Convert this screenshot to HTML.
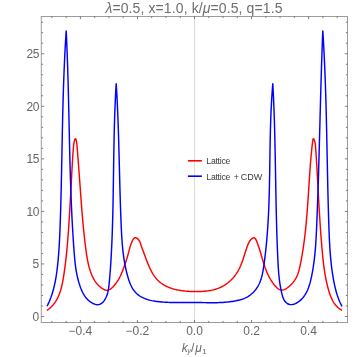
<!DOCTYPE html>
<html><head><meta charset="utf-8"><style>
html,body{margin:0;padding:0;background:#fff;}
svg{display:block;will-change:transform;font-family:"Liberation Sans",sans-serif;}
</style></head><body>
<svg width="357" height="357" viewBox="0 0 357 357">
<rect width="357" height="357" fill="#fff"/>
<line x1="194.5" y1="16.5" x2="194.5" y2="322.5" stroke="#dcdcdc" stroke-width="1"/>
<path d="M46.90,310.40 L47.68,309.85 L48.44,309.28 L49.17,308.70 L49.88,308.10 L50.56,307.49 L51.22,306.87 L51.85,306.23 L52.46,305.57 L53.05,304.90 L53.61,304.22 L54.16,303.53 L54.68,302.82 L55.18,302.11 L55.67,301.38 L56.13,300.64 L56.58,299.89 L57.00,299.12 L57.41,298.35 L57.80,297.57 L58.18,296.78 L58.54,295.98 L58.88,295.18 L59.21,294.36 L59.53,293.54 L59.83,292.71 L60.12,291.87 L60.39,291.03 L60.66,290.18 L60.91,289.32 L61.15,288.46 L61.38,287.59 L61.60,286.72 L61.81,285.85 L62.01,284.97 L62.20,284.08 L62.39,283.20 L62.57,282.31 L62.74,281.42 L62.90,280.53 L63.06,279.63 L63.22,278.73 L63.37,277.84 L63.51,276.94 L63.65,276.04 L63.79,275.15 L63.93,274.25 L64.07,273.35 L64.20,272.46 L64.33,271.56 L64.46,270.67 L64.58,269.77 L64.71,268.88 L64.83,267.99 L64.95,267.09 L65.06,266.20 L65.18,265.31 L65.29,264.42 L65.40,263.53 L65.51,262.64 L65.62,261.75 L65.72,260.86 L65.83,259.97 L65.93,259.08 L66.03,258.19 L66.13,257.30 L66.23,256.41 L66.32,255.52 L66.41,254.63 L66.51,253.75 L66.60,252.86 L66.68,251.97 L66.77,251.08 L66.86,250.20 L66.94,249.31 L67.02,248.42 L67.11,247.53 L67.19,246.65 L67.26,245.76 L67.34,244.87 L67.42,243.99 L67.49,243.10 L67.57,242.21 L67.64,241.33 L67.71,240.44 L67.79,239.55 L67.86,238.66 L67.92,237.78 L67.99,236.89 L68.06,236.00 L68.13,235.11 L68.19,234.23 L68.26,233.34 L68.32,232.45 L68.38,231.56 L68.45,230.67 L68.51,229.78 L68.57,228.89 L68.63,228.00 L68.69,227.11 L68.75,226.22 L68.81,225.33 L68.87,224.44 L68.93,223.55 L68.99,222.66 L69.04,221.77 L69.10,220.87 L69.16,219.98 L69.21,219.09 L69.27,218.19 L69.33,217.30 L69.38,216.41 L69.44,215.51 L69.49,214.62 L69.55,213.72 L69.60,212.83 L69.65,211.93 L69.71,211.04 L69.76,210.14 L69.81,209.25 L69.87,208.35 L69.92,207.45 L69.97,206.56 L70.02,205.66 L70.07,204.77 L70.13,203.87 L70.18,202.97 L70.23,202.08 L70.28,201.18 L70.33,200.28 L70.38,199.39 L70.43,198.49 L70.48,197.59 L70.53,196.70 L70.58,195.80 L70.63,194.90 L70.68,194.01 L70.72,193.11 L70.77,192.21 L70.82,191.32 L70.87,190.42 L70.92,189.52 L70.97,188.63 L71.02,187.73 L71.06,186.84 L71.11,185.94 L71.16,185.05 L71.21,184.15 L71.26,183.26 L71.30,182.36 L71.35,181.47 L71.40,180.57 L71.45,179.68 L71.49,178.78 L71.54,177.89 L71.59,177.00 L71.64,176.11 L71.68,175.21 L71.73,174.32 L71.78,173.43 L71.83,172.54 L71.87,171.65 L71.92,170.76 L71.97,169.87 L72.02,168.98 L72.06,168.09 L72.11,167.20 L72.16,166.31 L72.21,165.42 L72.26,164.53 L72.31,163.64 L72.36,162.75 L72.41,161.86 L72.46,160.97 L72.52,160.08 L72.57,159.19 L72.63,158.30 L72.68,157.41 L72.74,156.52 L72.80,155.63 L72.86,154.74 L72.92,153.85 L72.99,152.95 L73.05,152.06 L73.12,151.16 L73.19,150.27 L73.26,149.37 L73.33,148.47 L73.41,147.57 L73.49,146.67 L73.57,145.77 L73.66,144.86 L73.78,143.95 L73.92,143.02 L74.10,142.09 L74.32,141.13 L74.60,140.17 L74.91,139.33 L75.23,138.76 L75.55,138.64 L75.84,139.03 L76.10,139.77 L76.32,140.71 L76.51,141.68 L76.67,142.63 L76.79,143.55 L76.89,144.47 L76.98,145.37 L77.05,146.26 L77.12,147.15 L77.20,148.05 L77.27,148.94 L77.34,149.83 L77.41,150.72 L77.48,151.62 L77.55,152.51 L77.62,153.40 L77.69,154.29 L77.76,155.19 L77.83,156.08 L77.90,156.97 L77.97,157.87 L78.04,158.76 L78.11,159.66 L78.17,160.55 L78.24,161.44 L78.31,162.34 L78.38,163.23 L78.45,164.12 L78.52,165.02 L78.58,165.91 L78.65,166.81 L78.72,167.70 L78.79,168.59 L78.85,169.49 L78.92,170.38 L78.99,171.28 L79.05,172.17 L79.12,173.06 L79.19,173.96 L79.25,174.85 L79.32,175.74 L79.39,176.64 L79.45,177.53 L79.52,178.42 L79.58,179.32 L79.65,180.21 L79.72,181.10 L79.78,182.00 L79.85,182.89 L79.91,183.78 L79.98,184.67 L80.04,185.57 L80.11,186.46 L80.17,187.35 L80.23,188.24 L80.30,189.13 L80.36,190.02 L80.43,190.92 L80.49,191.81 L80.56,192.70 L80.62,193.59 L80.69,194.48 L80.75,195.37 L80.82,196.26 L80.88,197.15 L80.95,198.04 L81.01,198.93 L81.08,199.82 L81.14,200.71 L81.21,201.60 L81.28,202.49 L81.34,203.38 L81.41,204.27 L81.48,205.16 L81.55,206.05 L81.62,206.94 L81.69,207.83 L81.76,208.72 L81.83,209.60 L81.90,210.49 L81.97,211.38 L82.04,212.27 L82.11,213.16 L82.19,214.05 L82.26,214.94 L82.33,215.83 L82.41,216.72 L82.49,217.61 L82.56,218.50 L82.64,219.39 L82.72,220.28 L82.80,221.17 L82.88,222.06 L82.96,222.95 L83.04,223.84 L83.12,224.73 L83.21,225.62 L83.29,226.51 L83.38,227.40 L83.47,228.29 L83.55,229.18 L83.64,230.07 L83.73,230.96 L83.82,231.85 L83.92,232.74 L84.01,233.63 L84.10,234.52 L84.20,235.42 L84.30,236.31 L84.40,237.20 L84.50,238.09 L84.60,238.98 L84.70,239.87 L84.80,240.77 L84.91,241.66 L85.02,242.55 L85.12,243.45 L85.23,244.34 L85.34,245.23 L85.46,246.13 L85.57,247.02 L85.69,247.91 L85.80,248.81 L85.92,249.70 L86.04,250.60 L86.17,251.49 L86.29,252.39 L86.42,253.28 L86.55,254.18 L86.68,255.07 L86.82,255.96 L86.97,256.85 L87.11,257.74 L87.27,258.63 L87.43,259.52 L87.59,260.40 L87.76,261.28 L87.94,262.16 L88.13,263.04 L88.32,263.91 L88.52,264.78 L88.74,265.65 L88.96,266.51 L89.19,267.37 L89.43,268.23 L89.68,269.08 L89.94,269.92 L90.21,270.76 L90.49,271.60 L90.79,272.43 L91.10,273.26 L91.42,274.08 L91.76,274.89 L92.10,275.70 L92.47,276.50 L92.85,277.29 L93.25,278.08 L93.66,278.86 L94.10,279.62 L94.56,280.38 L95.04,281.13 L95.54,281.86 L96.07,282.59 L96.63,283.30 L97.21,283.99 L97.83,284.67 L98.47,285.34 L99.14,285.99 L99.85,286.63 L100.59,287.25 L101.37,287.84 L102.17,288.40 L102.99,288.90 L103.82,289.35 L104.66,289.71 L105.51,289.99 L106.35,290.16 L107.18,290.21 L107.99,290.13 L108.78,289.92 L109.55,289.59 L110.30,289.16 L111.03,288.64 L111.74,288.05 L112.43,287.40 L113.10,286.71 L113.74,285.99 L114.37,285.25 L114.97,284.51 L115.55,283.78 L116.11,283.05 L116.65,282.31 L117.16,281.57 L117.66,280.83 L118.14,280.09 L118.60,279.33 L119.04,278.58 L119.46,277.81 L119.87,277.03 L120.26,276.24 L120.64,275.44 L121.00,274.64 L121.35,273.83 L121.70,273.01 L122.03,272.19 L122.36,271.36 L122.68,270.52 L123.00,269.68 L123.32,268.84 L123.64,267.99 L123.95,267.14 L124.26,266.29 L124.57,265.44 L124.87,264.58 L125.17,263.73 L125.46,262.87 L125.75,262.01 L126.03,261.16 L126.31,260.30 L126.58,259.45 L126.84,258.60 L127.10,257.75 L127.36,256.90 L127.60,256.06 L127.84,255.22 L128.07,254.38 L128.29,253.55 L128.51,252.73 L128.72,251.90 L128.93,251.07 L129.15,250.25 L129.37,249.42 L129.59,248.58 L129.83,247.74 L130.09,246.88 L130.36,246.01 L130.65,245.14 L130.97,244.24 L131.31,243.33 L131.68,242.40 L132.09,241.44 L132.53,240.49 L133.01,239.59 L133.54,238.80 L134.13,238.18 L134.78,237.78 L135.50,237.67 L136.26,237.85 L137.05,238.26 L137.81,238.87 L138.50,239.59 L139.08,240.39 L139.56,241.23 L139.97,242.11 L140.31,242.99 L140.61,243.89 L140.88,244.76 L141.15,245.61 L141.42,246.42 L141.70,247.20 L141.99,247.97 L142.29,248.73 L142.58,249.48 L142.88,250.25 L143.17,251.03 L143.47,251.82 L143.77,252.63 L144.07,253.45 L144.37,254.28 L144.67,255.11 L144.98,255.96 L145.29,256.81 L145.60,257.67 L145.92,258.53 L146.25,259.40 L146.57,260.27 L146.91,261.15 L147.25,262.02 L147.59,262.90 L147.95,263.77 L148.31,264.64 L148.67,265.51 L149.05,266.38 L149.43,267.24 L149.83,268.09 L150.23,268.94 L150.65,269.78 L151.07,270.61 L151.50,271.44 L151.95,272.25 L152.41,273.05 L152.88,273.83 L153.36,274.61 L153.85,275.36 L154.36,276.11 L154.88,276.83 L155.42,277.54 L155.97,278.23 L156.54,278.90 L157.12,279.55 L157.72,280.17 L158.34,280.78 L158.97,281.36 L159.61,281.93 L160.27,282.47 L160.94,282.99 L161.63,283.50 L162.33,283.98 L163.05,284.44 L163.77,284.89 L164.51,285.32 L165.26,285.73 L166.02,286.12 L166.80,286.50 L167.58,286.86 L168.38,287.20 L169.18,287.53 L170.00,287.84 L170.82,288.13 L171.65,288.41 L172.49,288.68 L173.34,288.93 L174.20,289.16 L175.06,289.39 L175.93,289.60 L176.81,289.79 L177.69,289.98 L178.58,290.15 L179.47,290.31 L180.37,290.46 L181.27,290.60 L182.18,290.72 L183.09,290.84 L184.01,290.94 L184.92,291.04 L185.85,291.13 L186.77,291.20 L187.69,291.27 L188.62,291.33 L189.55,291.38 L190.47,291.43 L191.40,291.47 L192.33,291.50 L193.26,291.52 L194.18,291.54 L195.11,291.55 L196.03,291.55 L196.95,291.55 L197.88,291.54 L198.79,291.53 L199.71,291.51 L200.62,291.47 L201.53,291.43 L202.44,291.38 L203.34,291.32 L204.24,291.26 L205.14,291.18 L206.03,291.08 L206.92,290.98 L207.81,290.87 L208.69,290.74 L209.56,290.60 L210.44,290.44 L211.30,290.28 L212.16,290.09 L213.02,289.90 L213.86,289.68 L214.71,289.46 L215.54,289.21 L216.38,288.95 L217.20,288.67 L218.02,288.38 L218.83,288.06 L219.63,287.73 L220.42,287.38 L221.21,287.01 L221.99,286.61 L222.76,286.20 L223.53,285.77 L224.28,285.32 L225.03,284.85 L225.76,284.36 L226.49,283.85 L227.20,283.32 L227.91,282.78 L228.60,282.22 L229.28,281.65 L229.95,281.05 L230.61,280.45 L231.25,279.82 L231.88,279.18 L232.50,278.53 L233.10,277.87 L233.69,277.19 L234.27,276.50 L234.82,275.79 L235.37,275.07 L235.90,274.35 L236.41,273.61 L236.90,272.86 L237.38,272.10 L237.84,271.33 L238.28,270.55 L238.71,269.76 L239.12,268.96 L239.51,268.16 L239.90,267.35 L240.27,266.53 L240.63,265.71 L240.97,264.88 L241.31,264.04 L241.63,263.20 L241.95,262.35 L242.26,261.51 L242.56,260.65 L242.86,259.80 L243.15,258.94 L243.43,258.08 L243.71,257.22 L243.99,256.36 L244.27,255.50 L244.54,254.63 L244.81,253.77 L245.09,252.91 L245.36,252.05 L245.64,251.19 L245.91,250.34 L246.19,249.49 L246.48,248.64 L246.77,247.79 L247.06,246.95 L247.36,246.11 L247.67,245.28 L247.99,244.46 L248.32,243.64 L248.69,242.84 L249.10,242.04 L249.57,241.27 L250.11,240.51 L250.73,239.77 L251.43,239.07 L252.18,238.46 L252.94,238.02 L253.66,237.80 L254.32,237.86 L254.89,238.19 L255.40,238.75 L255.86,239.48 L256.27,240.33 L256.65,241.24 L257.02,242.16 L257.37,243.08 L257.70,243.99 L258.03,244.89 L258.35,245.79 L258.66,246.68 L258.95,247.57 L259.24,248.45 L259.52,249.33 L259.80,250.20 L260.06,251.07 L260.33,251.93 L260.58,252.79 L260.84,253.64 L261.08,254.50 L261.33,255.35 L261.58,256.19 L261.82,257.04 L262.06,257.88 L262.31,258.72 L262.55,259.56 L262.80,260.39 L263.05,261.23 L263.30,262.06 L263.55,262.90 L263.82,263.73 L264.08,264.56 L264.35,265.40 L264.63,266.23 L264.92,267.06 L265.21,267.90 L265.52,268.73 L265.83,269.56 L266.15,270.39 L266.48,271.21 L266.82,272.04 L267.17,272.86 L267.53,273.68 L267.91,274.49 L268.30,275.30 L268.70,276.11 L269.11,276.92 L269.54,277.72 L269.98,278.51 L270.44,279.31 L270.92,280.09 L271.41,280.87 L271.92,281.65 L272.44,282.42 L272.98,283.18 L273.55,283.94 L274.13,284.69 L274.73,285.43 L275.35,286.17 L275.99,286.87 L276.65,287.55 L277.33,288.17 L278.03,288.74 L278.75,289.22 L279.48,289.62 L280.24,289.91 L281.01,290.09 L281.80,290.15 L282.60,290.07 L283.42,289.89 L284.24,289.60 L285.06,289.22 L285.88,288.78 L286.69,288.27 L287.48,287.72 L288.26,287.13 L289.02,286.53 L289.75,285.91 L290.45,285.28 L291.13,284.63 L291.78,283.97 L292.41,283.30 L293.00,282.61 L293.57,281.91 L294.10,281.19 L294.61,280.46 L295.08,279.72 L295.53,278.96 L295.96,278.19 L296.36,277.41 L296.74,276.61 L297.09,275.81 L297.43,275.00 L297.75,274.17 L298.04,273.34 L298.32,272.50 L298.59,271.66 L298.84,270.81 L299.08,269.95 L299.30,269.08 L299.52,268.22 L299.72,267.34 L299.92,266.47 L300.11,265.59 L300.29,264.71 L300.47,263.83 L300.65,262.95 L300.82,262.07 L300.99,261.18 L301.16,260.30 L301.32,259.42 L301.49,258.54 L301.65,257.65 L301.80,256.77 L301.96,255.88 L302.11,255.00 L302.26,254.11 L302.41,253.23 L302.55,252.34 L302.69,251.46 L302.83,250.57 L302.97,249.69 L303.11,248.80 L303.24,247.91 L303.37,247.03 L303.50,246.14 L303.63,245.25 L303.75,244.37 L303.88,243.48 L304.00,242.59 L304.11,241.70 L304.23,240.81 L304.35,239.92 L304.46,239.04 L304.57,238.15 L304.68,237.26 L304.79,236.37 L304.89,235.48 L304.99,234.59 L305.10,233.70 L305.20,232.81 L305.29,231.92 L305.39,231.03 L305.49,230.14 L305.58,229.25 L305.67,228.36 L305.76,227.46 L305.85,226.57 L305.94,225.68 L306.03,224.79 L306.11,223.90 L306.20,223.01 L306.28,222.12 L306.36,221.22 L306.44,220.33 L306.52,219.44 L306.60,218.55 L306.67,217.66 L306.75,216.76 L306.82,215.87 L306.89,214.98 L306.97,214.09 L307.04,213.19 L307.11,212.30 L307.18,211.41 L307.25,210.51 L307.31,209.62 L307.38,208.73 L307.45,207.84 L307.51,206.94 L307.58,206.05 L307.64,205.16 L307.70,204.26 L307.77,203.37 L307.83,202.48 L307.89,201.59 L307.95,200.69 L308.01,199.80 L308.07,198.91 L308.13,198.01 L308.19,197.12 L308.25,196.23 L308.31,195.34 L308.37,194.44 L308.43,193.55 L308.48,192.66 L308.54,191.77 L308.60,190.87 L308.66,189.98 L308.72,189.09 L308.77,188.20 L308.83,187.30 L308.89,186.41 L308.95,185.52 L309.00,184.63 L309.06,183.74 L309.12,182.84 L309.18,181.95 L309.24,181.06 L309.29,180.17 L309.35,179.28 L309.41,178.39 L309.47,177.50 L309.53,176.60 L309.59,175.71 L309.65,174.82 L309.71,173.93 L309.77,173.04 L309.84,172.15 L309.90,171.26 L309.96,170.37 L310.03,169.48 L310.09,168.59 L310.16,167.70 L310.22,166.82 L310.29,165.93 L310.36,165.04 L310.43,164.15 L310.50,163.26 L310.57,162.37 L310.64,161.49 L310.71,160.60 L310.78,159.71 L310.86,158.82 L310.93,157.94 L311.01,157.05 L311.09,156.16 L311.17,155.27 L311.25,154.39 L311.33,153.50 L311.41,152.60 L311.50,151.71 L311.59,150.81 L311.68,149.91 L311.78,149.01 L311.88,148.10 L311.98,147.19 L312.08,146.27 L312.19,145.34 L312.30,144.42 L312.42,143.48 L312.54,142.54 L312.66,141.59 L312.79,140.63 L312.93,139.73 L313.11,139.02 L313.34,138.66 L313.64,138.80 L313.99,139.37 L314.35,140.21 L314.68,141.16 L314.93,142.10 L315.13,143.03 L315.28,143.95 L315.39,144.86 L315.47,145.76 L315.54,146.65 L315.61,147.55 L315.68,148.44 L315.74,149.34 L315.80,150.23 L315.87,151.13 L315.93,152.02 L315.99,152.92 L316.05,153.81 L316.11,154.70 L316.17,155.60 L316.23,156.49 L316.29,157.39 L316.35,158.28 L316.40,159.17 L316.46,160.07 L316.51,160.96 L316.57,161.86 L316.62,162.75 L316.67,163.64 L316.73,164.54 L316.78,165.43 L316.83,166.32 L316.88,167.22 L316.93,168.11 L316.98,169.00 L317.03,169.89 L317.08,170.79 L317.13,171.68 L317.18,172.57 L317.23,173.47 L317.28,174.36 L317.33,175.25 L317.37,176.15 L317.42,177.04 L317.47,177.93 L317.52,178.82 L317.57,179.72 L317.61,180.61 L317.66,181.50 L317.71,182.40 L317.75,183.29 L317.80,184.18 L317.85,185.07 L317.90,185.97 L317.94,186.86 L317.99,187.75 L318.04,188.65 L318.09,189.54 L318.14,190.43 L318.18,191.33 L318.23,192.22 L318.28,193.11 L318.33,194.01 L318.38,194.90 L318.43,195.79 L318.48,196.69 L318.53,197.58 L318.58,198.47 L318.62,199.37 L318.67,200.26 L318.73,201.15 L318.78,202.05 L318.83,202.94 L318.88,203.83 L318.93,204.73 L318.98,205.62 L319.03,206.51 L319.08,207.41 L319.14,208.30 L319.19,209.19 L319.24,210.09 L319.30,210.98 L319.35,211.87 L319.40,212.77 L319.46,213.66 L319.51,214.55 L319.57,215.44 L319.63,216.34 L319.68,217.23 L319.74,218.12 L319.80,219.02 L319.85,219.91 L319.91,220.80 L319.97,221.70 L320.03,222.59 L320.09,223.48 L320.15,224.38 L320.21,225.27 L320.27,226.16 L320.33,227.06 L320.39,227.95 L320.46,228.84 L320.52,229.73 L320.58,230.63 L320.65,231.52 L320.71,232.41 L320.78,233.31 L320.84,234.20 L320.91,235.09 L320.98,235.98 L321.05,236.88 L321.12,237.77 L321.18,238.66 L321.25,239.55 L321.33,240.45 L321.40,241.34 L321.47,242.23 L321.54,243.12 L321.62,244.01 L321.69,244.91 L321.76,245.80 L321.84,246.69 L321.92,247.58 L321.99,248.47 L322.07,249.37 L322.15,250.26 L322.23,251.15 L322.31,252.04 L322.39,252.93 L322.48,253.82 L322.56,254.72 L322.65,255.61 L322.73,256.50 L322.82,257.39 L322.91,258.28 L323.01,259.17 L323.10,260.06 L323.20,260.95 L323.30,261.84 L323.40,262.72 L323.51,263.61 L323.62,264.50 L323.73,265.39 L323.84,266.28 L323.96,267.16 L324.08,268.05 L324.20,268.93 L324.33,269.82 L324.46,270.70 L324.60,271.59 L324.74,272.47 L324.88,273.35 L325.03,274.23 L325.18,275.11 L325.34,276.00 L325.50,276.87 L325.66,277.75 L325.83,278.63 L326.01,279.51 L326.19,280.39 L326.38,281.26 L326.57,282.14 L326.76,283.01 L326.97,283.88 L327.18,284.75 L327.39,285.63 L327.61,286.50 L327.84,287.36 L328.07,288.23 L328.31,289.10 L328.56,289.96 L328.81,290.83 L329.07,291.69 L329.34,292.55 L329.62,293.41 L329.91,294.26 L330.21,295.11 L330.53,295.95 L330.86,296.78 L331.20,297.60 L331.56,298.42 L331.94,299.22 L332.34,300.02 L332.75,300.80 L333.19,301.57 L333.65,302.32 L334.13,303.06 L334.63,303.78 L335.17,304.49 L335.72,305.17 L336.31,305.84 L336.92,306.49 L337.56,307.12 L338.24,307.73 L338.94,308.31 L339.68,308.87 L340.45,309.41 L341.26,309.92 L342.10,310.40" fill="none" stroke="#ff0000" stroke-width="1.45" stroke-linejoin="round"/>
<path d="M47.00,306.30 L47.84,304.62 L48.64,302.92 L49.39,301.22 L50.09,299.50 L50.76,297.77 L51.39,296.02 L51.98,294.27 L52.53,292.51 L53.05,290.73 L53.54,288.95 L53.99,287.16 L54.42,285.36 L54.82,283.55 L55.19,281.74 L55.53,279.92 L55.86,278.10 L56.16,276.27 L56.44,274.43 L56.70,272.59 L56.95,270.75 L57.18,268.91 L57.40,267.06 L57.61,265.21 L57.80,263.36 L57.99,261.51 L58.16,259.66 L58.33,257.81 L58.48,255.95 L58.63,254.10 L58.77,252.24 L58.90,250.38 L59.03,248.53 L59.15,246.67 L59.26,244.81 L59.36,242.95 L59.46,241.09 L59.55,239.23 L59.64,237.37 L59.73,235.50 L59.81,233.64 L59.89,231.78 L59.96,229.92 L60.03,228.06 L60.10,226.19 L60.17,224.33 L60.23,222.47 L60.30,220.61 L60.36,218.75 L60.42,216.89 L60.48,215.02 L60.54,213.16 L60.60,211.30 L60.65,209.44 L60.71,207.58 L60.76,205.72 L60.81,203.86 L60.86,202.00 L60.91,200.14 L60.96,198.27 L61.01,196.41 L61.05,194.55 L61.10,192.69 L61.15,190.83 L61.19,188.97 L61.23,187.11 L61.27,185.25 L61.32,183.39 L61.36,181.53 L61.40,179.67 L61.44,177.81 L61.48,175.95 L61.52,174.09 L61.55,172.23 L61.59,170.37 L61.63,168.52 L61.67,166.66 L61.70,164.80 L61.74,162.94 L61.78,161.08 L61.81,159.22 L61.85,157.36 L61.88,155.50 L61.92,153.64 L61.96,151.78 L61.99,149.92 L62.03,148.07 L62.06,146.21 L62.10,144.35 L62.14,142.49 L62.17,140.63 L62.21,138.77 L62.25,136.91 L62.28,135.06 L62.32,133.20 L62.36,131.34 L62.40,129.48 L62.44,127.62 L62.48,125.76 L62.52,123.91 L62.56,122.05 L62.60,120.19 L62.64,118.33 L62.69,116.47 L62.73,114.62 L62.78,112.76 L62.82,110.90 L62.87,109.04 L62.92,107.18 L62.96,105.32 L63.01,103.47 L63.06,101.61 L63.12,99.75 L63.17,97.89 L63.22,96.03 L63.28,94.18 L63.34,92.32 L63.39,90.46 L63.45,88.60 L63.51,86.75 L63.58,84.89 L63.64,83.03 L63.71,81.17 L63.77,79.31 L63.84,77.46 L63.91,75.60 L63.98,73.74 L64.06,71.88 L64.13,70.02 L64.21,68.17 L64.29,66.31 L64.37,64.45 L64.45,62.59 L64.54,60.73 L64.62,58.87 L64.71,57.02 L64.80,55.16 L64.90,53.30 L64.99,51.44 L65.09,49.58 L65.19,47.73 L65.29,45.87 L65.40,44.01 L65.50,42.15 L65.61,40.29 L65.73,38.43 L65.84,36.58 L65.96,34.72 L66.08,32.86 L66.20,31.00 L66.20,31.00 L66.29,32.77 L66.37,34.54 L66.45,36.31 L66.54,38.08 L66.61,39.85 L66.69,41.62 L66.77,43.39 L66.84,45.16 L66.92,46.93 L66.99,48.70 L67.06,50.47 L67.13,52.24 L67.19,54.02 L67.26,55.79 L67.32,57.56 L67.38,59.33 L67.45,61.10 L67.51,62.87 L67.57,64.65 L67.62,66.42 L67.68,68.19 L67.73,69.96 L67.79,71.73 L67.84,73.51 L67.90,75.28 L67.95,77.05 L68.00,78.83 L68.05,80.60 L68.10,82.37 L68.14,84.14 L68.19,85.92 L68.24,87.69 L68.28,89.46 L68.33,91.24 L68.37,93.01 L68.41,94.78 L68.46,96.56 L68.50,98.33 L68.54,100.10 L68.58,101.88 L68.62,103.65 L68.67,105.43 L68.71,107.20 L68.75,108.97 L68.79,110.75 L68.82,112.52 L68.86,114.29 L68.90,116.07 L68.94,117.84 L68.98,119.62 L69.02,121.39 L69.06,123.16 L69.10,124.94 L69.13,126.71 L69.17,128.49 L69.21,130.26 L69.25,132.03 L69.29,133.81 L69.33,135.58 L69.37,137.36 L69.41,139.13 L69.45,140.90 L69.49,142.68 L69.53,144.45 L69.57,146.23 L69.61,148.00 L69.65,149.77 L69.70,151.55 L69.74,153.32 L69.78,155.09 L69.83,156.87 L69.87,158.64 L69.92,160.41 L69.97,162.19 L70.01,163.96 L70.06,165.73 L70.11,167.51 L70.16,169.28 L70.21,171.05 L70.26,172.83 L70.32,174.60 L70.37,176.37 L70.43,178.14 L70.48,179.92 L70.54,181.69 L70.60,183.46 L70.66,185.23 L70.72,187.01 L70.78,188.78 L70.84,190.55 L70.91,192.32 L70.97,194.09 L71.04,195.87 L71.11,197.64 L71.18,199.41 L71.25,201.18 L71.33,202.95 L71.40,204.72 L71.48,206.49 L71.56,208.26 L71.64,210.03 L71.72,211.80 L71.80,213.57 L71.89,215.34 L71.97,217.11 L72.06,218.88 L72.15,220.65 L72.25,222.42 L72.34,224.19 L72.44,225.96 L72.54,227.73 L72.64,229.50 L72.74,231.27 L72.85,233.04 L72.96,234.80 L73.07,236.57 L73.18,238.34 L73.29,240.11 L73.41,241.87 L73.53,243.64 L73.65,245.41 L73.78,247.17 L73.90,248.94 L74.03,250.71 L74.16,252.47 L74.30,254.24 L74.45,256.00 L74.60,257.77 L74.77,259.53 L74.94,261.29 L75.14,263.05 L75.35,264.80 L75.57,266.55 L75.82,268.30 L76.09,270.05 L76.39,271.79 L76.71,273.53 L77.06,275.27 L77.43,277.00 L77.85,278.73 L78.29,280.45 L78.77,282.17 L79.29,283.88 L79.84,285.59 L80.44,287.28 L81.09,288.97 L81.79,290.64 L82.55,292.27 L83.39,293.86 L84.31,295.40 L85.32,296.88 L86.43,298.28 L87.65,299.60 L88.98,300.83 L90.44,301.96 L92.02,302.96 L93.68,303.80 L95.37,304.39 L97.04,304.69 L98.63,304.64 L100.11,304.22 L101.47,303.46 L102.72,302.41 L103.86,301.12 L104.87,299.64 L105.77,298.01 L106.55,296.28 L107.20,294.50 L107.73,292.70 L108.15,290.92 L108.48,289.15 L108.74,287.38 L108.94,285.62 L109.12,283.87 L109.30,282.11 L109.46,280.35 L109.62,278.59 L109.77,276.82 L109.92,275.06 L110.07,273.30 L110.20,271.53 L110.34,269.77 L110.46,268.00 L110.59,266.23 L110.71,264.47 L110.82,262.70 L110.93,260.93 L111.04,259.16 L111.14,257.39 L111.24,255.62 L111.33,253.85 L111.42,252.08 L111.51,250.31 L111.60,248.54 L111.68,246.77 L111.76,245.00 L111.84,243.23 L111.92,241.45 L111.99,239.68 L112.06,237.91 L112.13,236.14 L112.19,234.37 L112.26,232.60 L112.32,230.83 L112.38,229.05 L112.43,227.28 L112.49,225.51 L112.54,223.74 L112.59,221.96 L112.64,220.19 L112.69,218.42 L112.73,216.65 L112.78,214.88 L112.82,213.10 L112.86,211.33 L112.90,209.56 L112.94,207.78 L112.98,206.01 L113.01,204.24 L113.05,202.47 L113.08,200.69 L113.11,198.92 L113.15,197.15 L113.18,195.37 L113.21,193.60 L113.24,191.83 L113.26,190.05 L113.29,188.28 L113.32,186.51 L113.35,184.73 L113.37,182.96 L113.40,181.19 L113.42,179.41 L113.45,177.64 L113.47,175.87 L113.50,174.09 L113.53,172.32 L113.55,170.55 L113.58,168.77 L113.60,167.00 L113.63,165.23 L113.65,163.45 L113.68,161.68 L113.71,159.91 L113.73,158.13 L113.76,156.36 L113.79,154.58 L113.82,152.81 L113.85,151.04 L113.88,149.27 L113.91,147.49 L113.94,145.72 L113.98,143.95 L114.01,142.17 L114.05,140.40 L114.09,138.63 L114.12,136.85 L114.16,135.08 L114.20,133.31 L114.25,131.53 L114.29,129.76 L114.34,127.99 L114.38,126.22 L114.43,124.44 L114.48,122.67 L114.54,120.90 L114.59,119.13 L114.65,117.35 L114.71,115.58 L114.77,113.81 L114.83,112.04 L114.90,110.27 L114.97,108.49 L115.04,106.72 L115.11,104.95 L115.18,103.18 L115.26,101.41 L115.34,99.64 L115.43,97.87 L115.51,96.09 L115.60,94.32 L115.69,92.55 L115.79,90.78 L115.89,89.01 L115.99,87.24 L116.09,85.47 L116.20,83.70 L116.20,83.70 L116.27,84.87 L116.35,86.03 L116.42,87.20 L116.49,88.36 L116.56,89.53 L116.63,90.70 L116.69,91.86 L116.76,93.03 L116.82,94.20 L116.89,95.36 L116.95,96.53 L117.01,97.69 L117.07,98.86 L117.13,100.03 L117.19,101.19 L117.24,102.36 L117.30,103.53 L117.35,104.69 L117.41,105.86 L117.46,107.03 L117.51,108.19 L117.57,109.36 L117.62,110.53 L117.67,111.69 L117.72,112.86 L117.76,114.03 L117.81,115.19 L117.86,116.36 L117.90,117.53 L117.95,118.69 L117.99,119.86 L118.04,121.03 L118.08,122.19 L118.12,123.36 L118.16,124.53 L118.20,125.69 L118.24,126.86 L118.28,128.03 L118.32,129.20 L118.36,130.36 L118.40,131.53 L118.44,132.70 L118.47,133.86 L118.51,135.03 L118.55,136.20 L118.58,137.36 L118.62,138.53 L118.65,139.70 L118.68,140.87 L118.72,142.03 L118.75,143.20 L118.78,144.37 L118.82,145.53 L118.85,146.70 L118.88,147.87 L118.91,149.04 L118.94,150.20 L118.97,151.37 L119.01,152.54 L119.04,153.70 L119.07,154.87 L119.10,156.04 L119.13,157.21 L119.16,158.37 L119.19,159.54 L119.22,160.71 L119.25,161.87 L119.27,163.04 L119.30,164.21 L119.33,165.38 L119.36,166.54 L119.39,167.71 L119.42,168.88 L119.45,170.05 L119.48,171.21 L119.51,172.38 L119.54,173.55 L119.57,174.71 L119.60,175.88 L119.63,177.05 L119.66,178.22 L119.69,179.38 L119.72,180.55 L119.75,181.72 L119.78,182.88 L119.81,184.05 L119.84,185.22 L119.87,186.39 L119.90,187.55 L119.93,188.72 L119.97,189.89 L120.00,191.06 L120.03,192.22 L120.06,193.39 L120.10,194.56 L120.13,195.72 L120.17,196.89 L120.20,198.06 L120.24,199.23 L120.27,200.39 L120.31,201.56 L120.35,202.73 L120.38,203.89 L120.42,205.06 L120.46,206.23 L120.50,207.39 L120.54,208.56 L120.58,209.73 L120.62,210.90 L120.66,212.06 L120.70,213.23 L120.74,214.40 L120.79,215.56 L120.83,216.73 L120.88,217.90 L120.92,219.06 L120.97,220.23 L121.02,221.40 L121.06,222.56 L121.11,223.73 L121.16,224.90 L121.21,226.06 L121.26,227.23 L121.32,228.40 L121.37,229.56 L121.43,230.73 L121.49,231.90 L121.55,233.06 L121.61,234.23 L121.68,235.40 L121.74,236.56 L121.82,237.73 L121.89,238.89 L121.97,240.06 L122.05,241.22 L122.14,242.38 L122.23,243.55 L122.33,244.71 L122.43,245.87 L122.54,247.04 L122.65,248.20 L122.77,249.36 L122.89,250.52 L123.02,251.68 L123.16,252.84 L123.30,254.00 L123.45,255.16 L123.61,256.32 L123.77,257.48 L123.94,258.63 L124.12,259.79 L124.31,260.95 L124.50,262.10 L124.71,263.25 L124.92,264.41 L125.14,265.56 L125.37,266.71 L125.61,267.86 L125.86,269.01 L126.12,270.16 L126.39,271.31 L126.67,272.46 L126.97,273.60 L127.27,274.75 L127.58,275.89 L127.91,277.03 L128.25,278.17 L128.60,279.30 L128.98,280.42 L129.37,281.53 L129.79,282.63 L130.23,283.71 L130.69,284.77 L131.18,285.81 L131.70,286.84 L132.25,287.83 L132.83,288.80 L133.45,289.74 L134.10,290.65 L134.79,291.53 L135.52,292.37 L136.29,293.18 L137.10,293.94 L137.96,294.67 L138.86,295.35 L139.80,295.99 L140.77,296.60 L141.78,297.16 L142.82,297.69 L143.89,298.17 L144.97,298.63 L146.08,299.04 L147.21,299.42 L148.34,299.77 L149.49,300.09 L150.66,300.38 L151.83,300.64 L153.00,300.87 L154.19,301.08 L155.38,301.27 L156.57,301.43 L157.76,301.58 L158.96,301.72 L160.15,301.83 L161.34,301.94 L162.53,302.04 L163.71,302.12 L164.89,302.20 L166.06,302.26 L167.24,302.32 L168.41,302.37 L169.58,302.41 L170.74,302.45 L171.90,302.48 L173.07,302.50 L174.23,302.52 L175.38,302.53 L176.54,302.54 L177.69,302.54 L178.85,302.54 L180.00,302.54 L181.15,302.53 L182.31,302.52 L183.46,302.52 L184.61,302.51 L185.76,302.50 L186.91,302.49 L188.06,302.48 L189.22,302.47 L190.37,302.47 L191.53,302.46 L192.68,302.46 L193.84,302.47 L195.00,302.48 L196.16,302.49 L197.32,302.50 L198.49,302.52 L199.65,302.54 L200.82,302.56 L201.98,302.58 L203.15,302.60 L204.32,302.62 L205.49,302.64 L206.67,302.66 L207.84,302.68 L209.01,302.69 L210.18,302.70 L211.36,302.71 L212.53,302.71 L213.71,302.71 L214.88,302.70 L216.06,302.68 L217.23,302.66 L218.41,302.62 L219.58,302.58 L220.75,302.54 L221.93,302.48 L223.10,302.41 L224.28,302.33 L225.45,302.24 L226.62,302.14 L227.79,302.02 L228.96,301.89 L230.13,301.75 L231.30,301.59 L232.46,301.42 L233.63,301.23 L234.79,301.03 L235.95,300.81 L237.11,300.56 L238.27,300.30 L239.41,300.02 L240.55,299.70 L241.67,299.36 L242.78,298.98 L243.87,298.57 L244.94,298.13 L245.98,297.64 L247.01,297.11 L248.01,296.54 L248.98,295.92 L249.92,295.26 L250.83,294.56 L251.71,293.82 L252.57,293.05 L253.39,292.24 L254.18,291.40 L254.93,290.53 L255.65,289.63 L256.34,288.70 L256.99,287.75 L257.61,286.78 L258.19,285.78 L258.73,284.77 L259.24,283.74 L259.71,282.69 L260.14,281.63 L260.55,280.55 L260.92,279.46 L261.27,278.36 L261.59,277.25 L261.88,276.13 L262.16,275.00 L262.41,273.86 L262.65,272.71 L262.87,271.55 L263.08,270.40 L263.27,269.23 L263.46,268.07 L263.64,266.90 L263.81,265.73 L263.97,264.56 L264.14,263.39 L264.29,262.22 L264.45,261.05 L264.60,259.88 L264.75,258.71 L264.90,257.54 L265.04,256.37 L265.19,255.20 L265.32,254.03 L265.46,252.86 L265.59,251.69 L265.72,250.52 L265.84,249.35 L265.97,248.19 L266.09,247.02 L266.20,245.85 L266.32,244.68 L266.43,243.51 L266.54,242.34 L266.65,241.18 L266.75,240.01 L266.85,238.84 L266.95,237.67 L267.05,236.51 L267.14,235.34 L267.24,234.17 L267.33,233.00 L267.41,231.84 L267.50,230.67 L267.58,229.50 L267.66,228.34 L267.74,227.17 L267.82,226.00 L267.89,224.83 L267.96,223.67 L268.03,222.50 L268.10,221.34 L268.17,220.17 L268.23,219.00 L268.30,217.84 L268.36,216.67 L268.42,215.50 L268.47,214.34 L268.53,213.17 L268.58,212.01 L268.64,210.84 L268.69,209.67 L268.73,208.51 L268.78,207.34 L268.83,206.18 L268.87,205.01 L268.92,203.85 L268.96,202.68 L269.00,201.51 L269.04,200.35 L269.08,199.18 L269.11,198.02 L269.15,196.85 L269.18,195.69 L269.22,194.52 L269.25,193.36 L269.28,192.19 L269.31,191.03 L269.34,189.86 L269.37,188.70 L269.39,187.53 L269.42,186.37 L269.45,185.20 L269.47,184.04 L269.50,182.87 L269.52,181.71 L269.54,180.54 L269.56,179.38 L269.59,178.21 L269.61,177.05 L269.63,175.88 L269.65,174.72 L269.67,173.55 L269.69,172.39 L269.70,171.22 L269.72,170.06 L269.74,168.89 L269.76,167.73 L269.78,166.56 L269.79,165.40 L269.81,164.23 L269.83,163.07 L269.85,161.90 L269.86,160.73 L269.88,159.57 L269.90,158.40 L269.91,157.24 L269.93,156.07 L269.95,154.91 L269.97,153.74 L269.99,152.58 L270.00,151.41 L270.02,150.25 L270.04,149.08 L270.06,147.92 L270.08,146.75 L270.10,145.59 L270.12,144.42 L270.14,143.25 L270.16,142.09 L270.19,140.92 L270.21,139.76 L270.23,138.59 L270.26,137.42 L270.28,136.26 L270.31,135.09 L270.34,133.93 L270.36,132.76 L270.39,131.59 L270.42,130.43 L270.45,129.26 L270.48,128.10 L270.52,126.93 L270.55,125.76 L270.58,124.60 L270.62,123.43 L270.66,122.26 L270.70,121.09 L270.74,119.93 L270.78,118.76 L270.82,117.59 L270.86,116.43 L270.91,115.26 L270.95,114.09 L271.00,112.92 L271.05,111.76 L271.10,110.59 L271.16,109.42 L271.21,108.25 L271.27,107.08 L271.32,105.92 L271.38,104.75 L271.44,103.58 L271.51,102.41 L271.57,101.24 L271.64,100.07 L271.71,98.91 L271.78,97.74 L271.85,96.57 L271.93,95.40 L272.01,94.23 L272.08,93.06 L272.17,91.89 L272.25,90.72 L272.34,89.55 L272.42,88.38 L272.51,87.21 L272.61,86.04 L272.70,84.87 L272.80,83.70 L272.80,83.70 L272.90,85.47 L272.99,87.23 L273.08,89.00 L273.17,90.76 L273.26,92.53 L273.34,94.30 L273.43,96.07 L273.51,97.83 L273.58,99.60 L273.66,101.37 L273.73,103.14 L273.80,104.91 L273.87,106.68 L273.94,108.45 L274.01,110.22 L274.07,111.99 L274.14,113.76 L274.20,115.54 L274.25,117.31 L274.31,119.08 L274.37,120.85 L274.42,122.63 L274.47,124.40 L274.53,126.17 L274.58,127.95 L274.62,129.72 L274.67,131.50 L274.72,133.27 L274.76,135.04 L274.81,136.82 L274.85,138.59 L274.89,140.37 L274.93,142.14 L274.97,143.92 L275.01,145.70 L275.05,147.47 L275.08,149.25 L275.12,151.02 L275.16,152.80 L275.19,154.58 L275.23,156.35 L275.26,158.13 L275.29,159.90 L275.33,161.68 L275.36,163.46 L275.39,165.23 L275.42,167.01 L275.45,168.79 L275.48,170.56 L275.52,172.34 L275.55,174.11 L275.58,175.89 L275.61,177.67 L275.64,179.44 L275.67,181.22 L275.70,182.99 L275.73,184.77 L275.76,186.55 L275.80,188.32 L275.83,190.10 L275.86,191.87 L275.89,193.65 L275.93,195.42 L275.96,197.20 L276.00,198.97 L276.03,200.74 L276.07,202.52 L276.10,204.29 L276.14,206.07 L276.18,207.84 L276.22,209.61 L276.26,211.39 L276.30,213.16 L276.34,214.93 L276.38,216.70 L276.42,218.47 L276.47,220.24 L276.52,222.02 L276.56,223.79 L276.61,225.56 L276.66,227.33 L276.71,229.10 L276.77,230.87 L276.82,232.63 L276.88,234.40 L276.93,236.17 L276.99,237.94 L277.05,239.70 L277.12,241.47 L277.18,243.24 L277.25,245.00 L277.31,246.77 L277.38,248.53 L277.45,250.30 L277.53,252.06 L277.60,253.82 L277.68,255.59 L277.76,257.35 L277.85,259.11 L277.93,260.87 L278.02,262.63 L278.11,264.39 L278.21,266.15 L278.32,267.91 L278.44,269.68 L278.57,271.44 L278.71,273.21 L278.87,274.97 L279.05,276.74 L279.24,278.52 L279.46,280.29 L279.70,282.07 L279.96,283.85 L280.25,285.64 L280.57,287.43 L280.92,289.23 L281.30,291.03 L281.71,292.83 L282.15,294.64 L282.66,296.44 L283.25,298.17 L283.98,299.79 L284.87,301.25 L285.98,302.51 L287.29,303.52 L288.77,304.23 L290.37,304.61 L292.03,304.61 L293.72,304.25 L295.40,303.61 L297.04,302.74 L298.58,301.72 L300.02,300.60 L301.34,299.40 L302.56,298.13 L303.67,296.78 L304.69,295.37 L305.62,293.90 L306.47,292.38 L307.24,290.80 L307.94,289.18 L308.58,287.53 L309.16,285.84 L309.68,284.13 L310.17,282.39 L310.61,280.64 L311.02,278.87 L311.41,277.11 L311.78,275.34 L312.12,273.57 L312.45,271.80 L312.76,270.03 L313.06,268.27 L313.34,266.50 L313.60,264.73 L313.84,262.97 L314.08,261.20 L314.30,259.44 L314.50,257.67 L314.70,255.91 L314.88,254.15 L315.05,252.38 L315.21,250.62 L315.36,248.86 L315.50,247.09 L315.63,245.33 L315.75,243.57 L315.87,241.80 L315.98,240.04 L316.08,238.28 L316.18,236.52 L316.27,234.75 L316.36,232.99 L316.44,231.23 L316.52,229.46 L316.60,227.70 L316.68,225.93 L316.75,224.17 L316.82,222.40 L316.90,220.64 L316.97,218.87 L317.04,217.11 L317.11,215.34 L317.18,213.57 L317.25,211.81 L317.31,210.04 L317.38,208.27 L317.45,206.50 L317.51,204.73 L317.57,202.97 L317.64,201.20 L317.70,199.43 L317.76,197.66 L317.82,195.89 L317.88,194.12 L317.94,192.35 L318.00,190.58 L318.06,188.81 L318.12,187.03 L318.17,185.26 L318.23,183.49 L318.29,181.72 L318.34,179.95 L318.40,178.18 L318.45,176.40 L318.50,174.63 L318.56,172.86 L318.61,171.09 L318.66,169.31 L318.71,167.54 L318.77,165.77 L318.82,163.99 L318.87,162.22 L318.92,160.44 L318.97,158.67 L319.02,156.90 L319.07,155.12 L319.12,153.35 L319.16,151.57 L319.21,149.80 L319.26,148.02 L319.31,146.25 L319.36,144.48 L319.40,142.70 L319.45,140.93 L319.50,139.15 L319.55,137.38 L319.59,135.60 L319.64,133.82 L319.69,132.05 L319.73,130.27 L319.78,128.50 L319.83,126.72 L319.87,124.95 L319.92,123.17 L319.97,121.40 L320.01,119.62 L320.06,117.85 L320.11,116.07 L320.15,114.30 L320.20,112.52 L320.25,110.75 L320.30,108.97 L320.34,107.20 L320.39,105.42 L320.44,103.65 L320.49,101.87 L320.54,100.10 L320.58,98.32 L320.63,96.55 L320.68,94.77 L320.73,93.00 L320.78,91.22 L320.83,89.45 L320.88,87.67 L320.93,85.90 L320.99,84.13 L321.04,82.35 L321.09,80.58 L321.14,78.80 L321.20,77.03 L321.25,75.26 L321.30,73.49 L321.36,71.71 L321.41,69.94 L321.47,68.17 L321.52,66.40 L321.58,64.62 L321.64,62.85 L321.70,61.08 L321.76,59.31 L321.82,57.54 L321.88,55.77 L321.94,54.00 L322.00,52.22 L322.06,50.45 L322.12,48.68 L322.19,46.91 L322.25,45.15 L322.32,43.38 L322.38,41.61 L322.45,39.84 L322.52,38.07 L322.59,36.30 L322.66,34.53 L322.73,32.77 L322.80,31.00 L322.80,31.00 L322.92,32.86 L323.04,34.72 L323.15,36.58 L323.26,38.44 L323.37,40.30 L323.48,42.16 L323.59,44.02 L323.69,45.87 L323.79,47.73 L323.89,49.59 L323.98,51.45 L324.08,53.31 L324.17,55.17 L324.26,57.03 L324.35,58.88 L324.44,60.74 L324.52,62.60 L324.60,64.46 L324.68,66.32 L324.76,68.18 L324.84,70.03 L324.92,71.89 L324.99,73.75 L325.06,75.61 L325.13,77.46 L325.20,79.32 L325.27,81.18 L325.34,83.04 L325.40,84.90 L325.46,86.75 L325.53,88.61 L325.59,90.47 L325.64,92.33 L325.70,94.18 L325.76,96.04 L325.81,97.90 L325.87,99.76 L325.92,101.61 L325.97,103.47 L326.03,105.33 L326.08,107.19 L326.12,109.04 L326.17,110.90 L326.22,112.76 L326.27,114.62 L326.31,116.47 L326.36,118.33 L326.40,120.19 L326.44,122.05 L326.49,123.90 L326.53,125.76 L326.57,127.62 L326.61,129.48 L326.65,131.33 L326.69,133.19 L326.73,135.05 L326.77,136.91 L326.81,138.77 L326.85,140.62 L326.88,142.48 L326.92,144.34 L326.96,146.20 L327.00,148.06 L327.03,149.92 L327.07,151.77 L327.11,153.63 L327.14,155.49 L327.18,157.35 L327.22,159.21 L327.26,161.07 L327.29,162.93 L327.33,164.79 L327.37,166.64 L327.40,168.50 L327.44,170.36 L327.48,172.22 L327.52,174.08 L327.56,175.94 L327.60,177.80 L327.64,179.66 L327.68,181.52 L327.72,183.38 L327.76,185.24 L327.80,187.10 L327.84,188.96 L327.88,190.82 L327.93,192.68 L327.97,194.54 L328.02,196.41 L328.06,198.27 L328.11,200.13 L328.16,201.99 L328.21,203.85 L328.26,205.71 L328.31,207.58 L328.36,209.44 L328.41,211.30 L328.47,213.16 L328.52,215.02 L328.58,216.89 L328.63,218.75 L328.69,220.61 L328.75,222.48 L328.81,224.34 L328.88,226.20 L328.94,228.07 L329.01,229.93 L329.08,231.80 L329.15,233.66 L329.22,235.52 L329.31,237.39 L329.39,239.25 L329.48,241.11 L329.58,242.97 L329.68,244.83 L329.79,246.69 L329.91,248.55 L330.03,250.41 L330.17,252.26 L330.31,254.12 L330.46,255.97 L330.63,257.82 L330.80,259.67 L330.98,261.52 L331.18,263.37 L331.39,265.21 L331.61,267.05 L331.84,268.89 L332.09,270.73 L332.35,272.57 L332.63,274.40 L332.92,276.23 L333.23,278.06 L333.55,279.88 L333.90,281.71 L334.26,283.52 L334.64,285.34 L335.05,287.14 L335.48,288.94 L335.95,290.74 L336.45,292.52 L336.98,294.29 L337.56,296.05 L338.18,297.80 L338.84,299.53 L339.55,301.25 L340.31,302.95 L341.13,304.63 L342.00,306.30" fill="none" stroke="#0000ff" stroke-width="1.45" stroke-linejoin="round"/>
<path d="M41.3,16.5 V322.5 M347.5,16.5 V322.5 M40.8,16.5 H348.0 M40.8,322.5 H348.0" fill="none" stroke="#9c9c9c" stroke-width="1"/>
<path d="M51.85,322.5 v-1.6 M51.85,16.5 v1.6 M66.11,322.5 v-1.6 M66.11,16.5 v1.6 M80.38,322.5 v-2.6 M80.38,16.5 v2.6 M94.64,322.5 v-1.6 M94.64,16.5 v1.6 M108.91,322.5 v-1.6 M108.91,16.5 v1.6 M123.17,322.5 v-1.6 M123.17,16.5 v1.6 M137.44,322.5 v-2.6 M137.44,16.5 v2.6 M151.70,322.5 v-1.6 M151.70,16.5 v1.6 M165.97,322.5 v-1.6 M165.97,16.5 v1.6 M180.24,322.5 v-1.6 M180.24,16.5 v1.6 M194.50,322.5 v-2.6 M194.50,16.5 v2.6 M208.76,322.5 v-1.6 M208.76,16.5 v1.6 M223.03,322.5 v-1.6 M223.03,16.5 v1.6 M237.30,322.5 v-1.6 M237.30,16.5 v1.6 M251.56,322.5 v-2.6 M251.56,16.5 v2.6 M265.82,322.5 v-1.6 M265.82,16.5 v1.6 M280.09,322.5 v-1.6 M280.09,16.5 v1.6 M294.36,322.5 v-1.6 M294.36,16.5 v1.6 M308.62,322.5 v-2.6 M308.62,16.5 v2.6 M322.88,322.5 v-1.6 M322.88,16.5 v1.6 M337.15,322.5 v-1.6 M337.15,16.5 v1.6 M41.5,316.50 h2.6 M347.5,316.50 h-2.6 M41.5,305.99 h1.6 M347.5,305.99 h-1.6 M41.5,295.48 h1.6 M347.5,295.48 h-1.6 M41.5,284.97 h1.6 M347.5,284.97 h-1.6 M41.5,274.46 h1.6 M347.5,274.46 h-1.6 M41.5,263.95 h2.6 M347.5,263.95 h-2.6 M41.5,253.44 h1.6 M347.5,253.44 h-1.6 M41.5,242.93 h1.6 M347.5,242.93 h-1.6 M41.5,232.42 h1.6 M347.5,232.42 h-1.6 M41.5,221.91 h1.6 M347.5,221.91 h-1.6 M41.5,211.40 h2.6 M347.5,211.40 h-2.6 M41.5,200.89 h1.6 M347.5,200.89 h-1.6 M41.5,190.38 h1.6 M347.5,190.38 h-1.6 M41.5,179.87 h1.6 M347.5,179.87 h-1.6 M41.5,169.36 h1.6 M347.5,169.36 h-1.6 M41.5,158.85 h2.6 M347.5,158.85 h-2.6 M41.5,148.34 h1.6 M347.5,148.34 h-1.6 M41.5,137.83 h1.6 M347.5,137.83 h-1.6 M41.5,127.32 h1.6 M347.5,127.32 h-1.6 M41.5,116.81 h1.6 M347.5,116.81 h-1.6 M41.5,106.30 h2.6 M347.5,106.30 h-2.6 M41.5,95.79 h1.6 M347.5,95.79 h-1.6 M41.5,85.28 h1.6 M347.5,85.28 h-1.6 M41.5,74.77 h1.6 M347.5,74.77 h-1.6 M41.5,64.26 h1.6 M347.5,64.26 h-1.6 M41.5,53.75 h2.6 M347.5,53.75 h-2.6 M41.5,43.24 h1.6 M347.5,43.24 h-1.6 M41.5,32.73 h1.6 M347.5,32.73 h-1.6 M41.5,22.22 h1.6 M347.5,22.22 h-1.6" fill="none" stroke="#484848" stroke-width="0.7"/>
<g font-size="12px" fill="#666"><text x="80.4" y="335.4" text-anchor="middle">−0.4</text><text x="137.4" y="335.4" text-anchor="middle">−0.2</text><text x="194.5" y="335.4" text-anchor="middle">0.0</text><text x="251.6" y="335.4" text-anchor="middle">0.2</text><text x="308.6" y="335.4" text-anchor="middle">0.4</text><text x="39.3" y="320.8" text-anchor="end">0</text><text x="39.3" y="268.2" text-anchor="end">5</text><text x="26.5" y="215.7" letter-spacing="-0.5">10</text><text x="26.5" y="163.2" letter-spacing="-0.5">15</text><text x="26.5" y="110.6" letter-spacing="-0.5">20</text><text x="26.5" y="58.0" letter-spacing="-0.5">25</text></g>
<text x="194.0" y="12.7" font-size="14px" fill="#6e6e6e" text-anchor="middle" letter-spacing="0.11"><tspan font-style="italic">λ</tspan>=0.5, x=1.0, k/<tspan font-style="italic">μ</tspan>=0.5, q=1.5</text>
<g font-size="12px" fill="#6a6a6a"><text x="181.8" y="351.5" font-style="italic">k</text><text x="187.3" y="353.2" font-size="7.6px" font-style="italic">y</text><text x="190.9" y="351.5">/</text><text x="195.3" y="351.5" font-style="italic">μ</text><text x="202.3" y="353.7" font-size="8px">1</text></g>
<line x1="187.9" y1="160.8" x2="201.9" y2="160.8" stroke="#ff0000" stroke-width="1.6"/>
<line x1="187.9" y1="176.2" x2="201.9" y2="176.2" stroke="#0000ff" stroke-width="1.6"/>
<g font-size="8.7px" fill="#3a3a3a"><text x="206.3" y="164.1" letter-spacing="-0.25">Lattice</text><text x="206.3" y="179.7" letter-spacing="-0.25">Lattice</text><text x="233.7" y="179.7">+</text><text x="240.8" y="179.7" textLength="21.6" lengthAdjust="spacingAndGlyphs">CDW</text></g>
</svg>
</body></html>
